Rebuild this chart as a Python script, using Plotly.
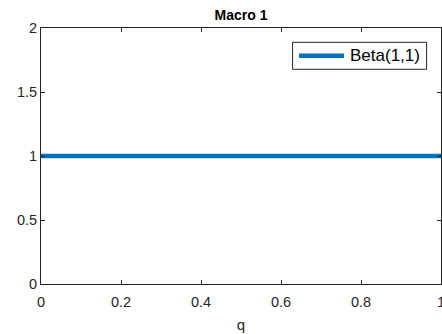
import plotly.graph_objects as go

# Data
q_values = [0.0, 0.25, 0.5, 0.75, 1.0]
density = [1.0, 1.0, 1.0, 1.0, 1.0]
series_name = "Beta(1,1)"
series_color = "#0072BD"
x_ticks = [0, 0.2, 0.4, 0.6, 0.8, 1]
x_tick_labels = ["0", "0.2", "0.4", "0.6", "0.8", "1"]
y_ticks = [0, 0.5, 1, 1.5, 2]
y_tick_labels = ["0", "0.5", "1", "1.5", "2"]

FONT = "Liberation Sans, Arial, Helvetica, sans-serif"

fig = go.Figure()
fig.add_trace(go.Scatter(
    x=q_values, y=density, mode="lines", name=series_name, showlegend=False,
    line=dict(color=series_color, width=4.5),
))

axis_common = dict(
    showgrid=False, zeroline=False, showline=True, linecolor="#262626", linewidth=1,
    mirror="ticks", ticks="inside", ticklen=4, tickcolor="#262626",
    tickfont=dict(family=FONT, size=14.5, color="#262626"),
    automargin=False, ticklabeloverflow="allow",
)

# MATLAB-style legend box (drawn in paper coordinates)
box = dict(x0=0.629, x1=0.964, y0=0.8387, y1=0.944)
legend_line_y = (box["y0"] + box["y1"]) / 2
shapes = [
    dict(type="rect", xref="paper", yref="paper", **box,
         line=dict(color="#262626", width=1), fillcolor="white", layer="above"),
    dict(type="line", xref="paper", yref="paper", x0=0.645, x1=0.7575,
         y0=legend_line_y, y1=legend_line_y,
         line=dict(color=series_color, width=4.5), layer="above"),
]
annotations = [
    dict(text=series_name, xref="paper", yref="paper", x=0.768, y=legend_line_y,
         xanchor="left", yanchor="middle", showarrow=False,
         font=dict(family=FONT, size=17, color="black")),
]

fig.update_layout(
    width=442, height=334,
    margin=dict(l=41, r=1, t=28, b=50),
    paper_bgcolor="white", plot_bgcolor="white",
    title=dict(text="<b>Macro 1</b>", x=0.5, xref="paper", xanchor="center", y=1 - 15 / 334, yanchor="middle",
               font=dict(family=FONT, size=14, color="black")),
    xaxis=dict(range=[0, 1], tickvals=x_ticks, ticktext=x_tick_labels, ticklabelstandoff=5,
               title=dict(text="q", standoff=10,
                          font=dict(family=FONT, size=15, color="#262626")),
               **axis_common),
    yaxis=dict(range=[0, 2], tickvals=y_ticks, ticktext=y_tick_labels, **axis_common),
    showlegend=False,
    shapes=shapes,
    annotations=annotations,
)

fig.write_html("out.html", config={"displayModeBar": False},
               post_script="document.body.style.margin='0px';")
